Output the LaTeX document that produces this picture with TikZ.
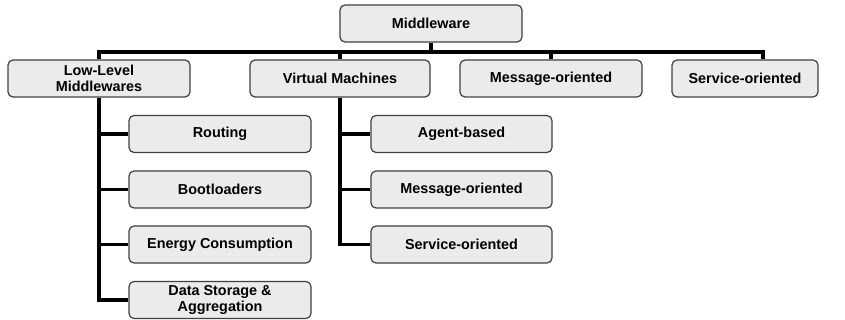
\documentclass[tikz,border=0pt]{standalone}
\usepackage{fontspec}
\setmainfont{Liberation Sans}
\begin{document}
\begin{tikzpicture}[x=1pt,y=-1pt,
  box/.style={draw=black!75,fill=black!8,line width=1.2pt,rounded corners=5pt,
    minimum height=37pt,inner sep=0pt,align=center,
    font=\fontsize{14.4}{16.5}\selectfont\bfseries},
  conn/.style={line width=3.2pt,black}]
\useasboundingbox (0,0) rectangle (845,320);
\node[box,minimum width=182pt] (mw) at (431,23.5) {Middleware};
\node[box,minimum width=182pt] (low) at (99,78.5) {Low-Level\\Middlewares};
\node[box,minimum width=180pt] (vm) at (340,78.5) {Virtual Machines};
\node[box,minimum width=182pt] (msg) at (551,78.5) {Message-oriented};
\node[box,minimum width=146pt] (svc) at (745,78.5) {Service-oriented};
\node[box,minimum width=182pt] (rout) at (220,134) {Routing};
\node[box,minimum width=182pt] (boot) at (220,189.5) {Bootloaders};
\node[box,minimum width=182pt] (ener) at (220,244.5) {Energy Consumption};
\node[box,minimum width=182pt] (data) at (220,300) {Data Storage \&\\Aggregation};
\node[box,minimum width=181pt] (agent) at (461.5,134) {Agent-based};
\node[box,minimum width=181pt] (vmmsg) at (461.5,189.5) {Message-oriented};
\node[box,minimum width=181pt] (vmsvc) at (461.5,244.5) {Service-oriented};
\coordinate (barL) at (99,52);
\coordinate (barR) at (763,52);
\draw[conn] (barL |- low.north) -- (barL) -- (barR) -- (barR |- svc.north);
\draw[conn] (mw.south) -- (mw.south |- barL);
\draw[conn] (vm.north) -- (vm.north |- barL);
\draw[conn] (msg.north) -- (msg.north |- barL);
\draw[conn] (low.south) |- (data.west);
\draw[conn] (low.south |- rout.west) -- (rout.west);
\draw[conn] (low.south |- boot.west) -- (boot.west);
\draw[conn] (low.south |- ener.west) -- (ener.west);
\draw[conn] (vm.south) |- (vmsvc.west);
\draw[conn] (vm.south |- agent.west) -- (agent.west);
\draw[conn] (vm.south |- vmmsg.west) -- (vmmsg.west);
\end{tikzpicture}
\end{document}
